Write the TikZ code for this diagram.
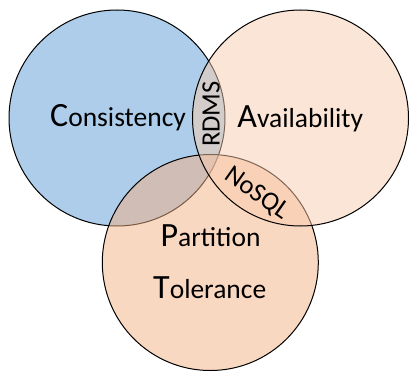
\documentclass[tikz,border=0pt]{standalone}
\usepackage{fontspec}
\setmainfont{Carlito}
\usepackage{tikz}
\usetikzlibrary{positioning}
\definecolor{consblue}{HTML}{5B9BD5}
\definecolor{availpeach}{HTML}{F8CBAD}
\definecolor{partorange}{HTML}{F4B183}
\newcommand{\capword}[2]{{\fontsize{34}{38}\selectfont #1}{\fontsize{27.5}{31}\selectfont #2}}
\tikzset{
  setcircle/.style={
    circle, draw=black, line width=1pt, fill opacity=0.5,
    minimum size=216pt, inner sep=0pt
  },
  setlabel/.style={inner sep=0pt, text=black, anchor=base},
  overlaplabel/.style={inner sep=0pt, text=black, font=\fontsize{26.5}{30}\selectfont},
}
\begin{document}
\begin{tikzpicture}[x=1pt, y=-1pt]
  \useasboundingbox (0,0) rectangle (419,377);
  % the three sets, drawn in this order
  \node[setcircle, fill=consblue] (cons) at (117,118) {};
  \node[setcircle, fill=partorange] (part) at (210.3,262.5) {};
  \node[setcircle, fill=availpeach] (avail) at (300.5,118) {};
  % set names
  \node[setlabel] (conslbl) at (118,126.5) {\capword{C}{onsistency}};
  \node[setlabel] (availlbl) at (300.3,127.5) {\capword{A}{vailability}};
  \node[setlabel] (partlbl) at (210.5,246) {\capword{P}{artition}};
  \node[setlabel] (tollbl) at (209.7,298.5) {\capword{T}{olerance}};
  % overlaps
  \node[overlaplabel, rotate=90] (rdms) at (211,114) {RDMS};
  \node[overlaplabel, rotate=-35] (nosql) at (257,194) {NoSQL};
\end{tikzpicture}
\end{document}
